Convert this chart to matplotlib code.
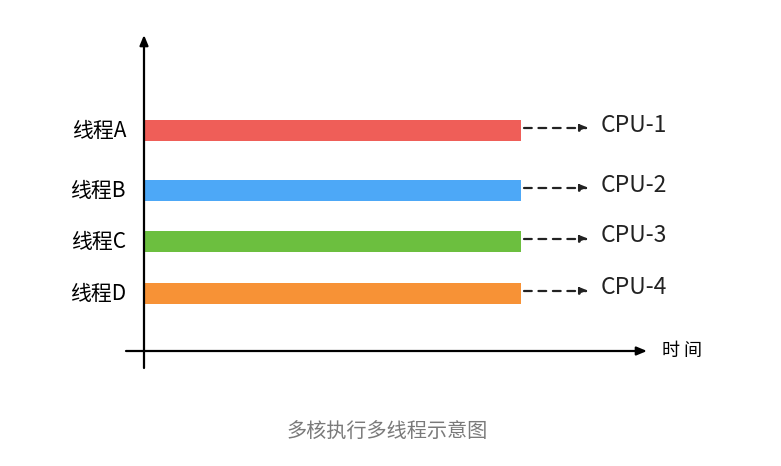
import matplotlib.pyplot as plt

plt.rcParams['font.family'] = ['Noto Sans CJK SC', 'DejaVu Sans']

threads = ['线程A', '线程B', '线程C', '线程D']
cpus = ['CPU-1', 'CPU-2', 'CPU-3', 'CPU-4']
colors = ['#EF5E58', '#4DA8F7', '#6CBF3F', '#F79236']
lane_y = [221, 161, 110, 58]      # lane centre heights above time axis
run_time = [377, 377, 377, 377]   # all threads run for the whole span
caption = '多核执行多线程示意图'

fig = plt.figure(figsize=(7.81, 4.66), dpi=100)
ax = fig.add_axes([0, 0, 1, 1])
ax.set_xlim(-144, 637)
ax.set_ylim(-115, 351)
ax.axis('off')

# axes with arrows
ax.annotate('', xy=(0, 316), xytext=(0, -17),
            arrowprops=dict(arrowstyle='-|>,head_length=0.6,head_width=0.25',
                            color='black', lw=1.6, shrinkA=0, shrinkB=0))
ax.annotate('', xy=(503, 0), xytext=(-18, 0),
            arrowprops=dict(arrowstyle='-|>,head_length=0.6,head_width=0.25',
                            color='black', lw=1.6, shrinkA=0, shrinkB=0))
ax.text(518, 0, '时 间', fontsize=13, va='center', ha='left')

for name, cpu, c, y, t in zip(threads, cpus, colors, lane_y, run_time):
    ax.barh(y, t, height=21, left=0, color=c, edgecolor='none')
    ax.text(-18, y - 1, name, fontsize=15, va='center', ha='right')
    ax.annotate('', xy=(t + 68, y + 2), xytext=(t + 3, y + 2),
                arrowprops=dict(arrowstyle='-|>,head_length=0.5,head_width=0.2',
                                color='#222222', lw=1.6, linestyle=(0, (3.5, 3)),
                                shrinkA=0, shrinkB=0))
    ax.text(t + 80, y + 5, cpu, fontsize=16.5, va='center', ha='left', color='#222222')

ax.text(387 - 144, -81, caption, fontsize=14.5, color='#7a7a7a', ha='center', va='center')

fig.savefig('out.png', dpi=100)
